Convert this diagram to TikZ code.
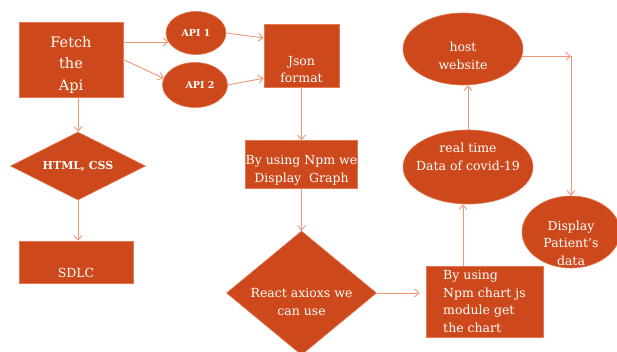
\documentclass[tikz,border=0pt]{standalone}
\usepackage{fontspec}
\setmainfont{DejaVu Serif}
\usepackage{tikz}
\usetikzlibrary{shapes.geometric,arrows.meta}
\definecolor{rust}{RGB}{205,72,26}
\definecolor{rustedge}{RGB}{228,120,85}
\definecolor{salmon}{RGB}{238,150,118}

\begin{document}
\begin{tikzpicture}[x=1pt,y=-1pt]
	\tikzset{
		box/.style={draw=rustedge, line width=0.6pt, fill=rust, text=white, inner sep=0pt, align=center},
		oval/.style={box, ellipse},
		rhomb/.style={box, diamond},
		txt/.style={text=white, align=center, inner sep=0pt},
		big/.style={font=\fontsize{14.5}{21.5}\selectfont},
		mid/.style={font=\fontsize{12.5}{17.5}\selectfont},
		tag/.style={font=\bfseries\fontsize{9.5}{11}\selectfont},
		flow/.style={draw=salmon, line width=0.9pt, -{Straight Barb[length=4.5pt,width=8pt]}}}
	\fill[white] (0,0) rectangle (617,351);
	\clip (0,0) rectangle (617,351);
	% left column
	\node[box, minimum width=104pt, minimum height=75pt, label={[txt, big, yshift=-5pt]center:{Fetch\\the\\Api}}](fetch) at (71,59.5){};
	\node[rhomb, minimum width=135pt, minimum height=68pt, label={[txt, font=\bfseries\fontsize{11}{13}\selectfont]center:{HTML, CSS}}](html) at (78,166){};
	\node[box, minimum width=114pt, minimum height=42pt, label={[txt, mid, yshift=-11pt]center:SDLC}](sdlc) at (76,262){};
	% apis
	\node[oval, minimum width=60pt, minimum height=43pt, tag](api1) at (196,33){API 1};
	\node[oval, minimum width=65pt, minimum height=45pt, label={[txt, tag, xshift=5pt]center:API 2}](api2) at (195,85){};
	% middle column
	\node[box, minimum width=75pt, minimum height=63pt, label={[txt, mid, yshift=-14pt]center:{Json\\format}}](json) at (301.5,55.5){};
	\node[box, minimum width=112pt, minimum height=48pt, label={[txt, mid, yshift=-6pt]center:{By using Npm we\\Display\ \ Graph}}](npm) at (301.5,164.5){};
	\node[rhomb, minimum width=150pt, minimum height=124pt, label={[txt, mid, yshift=-9pt]center:{React axioxs we\\can use}}](react) at (301.5,293){};
	% right side
	\node[box, minimum width=117pt, minimum height=71pt, mid, align=left](chart) at (484.5,301.5){By using\\Npm chart js\\module get\\the chart};
	\node[oval, minimum width=130pt, minimum height=74pt, label={[txt, mid, yshift=10pt]center:{real time\\Data of covid-19}}](live) at (468,167){};
	\node[oval, minimum width=120pt, minimum height=72pt, label={[txt, mid, yshift=-7pt]center:{host\\website}}](host) at (463,49){};
	\node[oval, minimum width=98pt, minimum height=72pt, label={[txt, mid, yshift=-11pt]center:{Display\\Patient's\\data}}](display) at (571,232){};
	\coordinate(turn) at (host.353 -| display.north);
	% arrows
	\draw[flow](fetch.east |- api1.198)--(api1.198);
	\draw[flow](fetch.east)--(api2.168);
	\draw[flow](api1.east)--(json.155);
	\draw[flow](api2.east)--(json.211);
	\draw[flow](fetch.south -| html.north)--(html.north);
	\draw[flow](html.south)--(html.south |- sdlc.north);
	\draw[flow](json.south)--(npm.north);
	\draw[flow](npm.south)--(react.north);
	\draw[flow](react.east)--([xshift=-6pt]react.east -| chart.west);
	\draw[flow]([xshift=-5pt]live.south |- chart.north)--([xshift=-5pt]live.south);
	\draw[flow](live.north)--(live.north |- host.south);
	\draw[flow](host.353)--(turn);
	\draw[flow](turn)--(display.north);
\end{tikzpicture}
\end{document}
